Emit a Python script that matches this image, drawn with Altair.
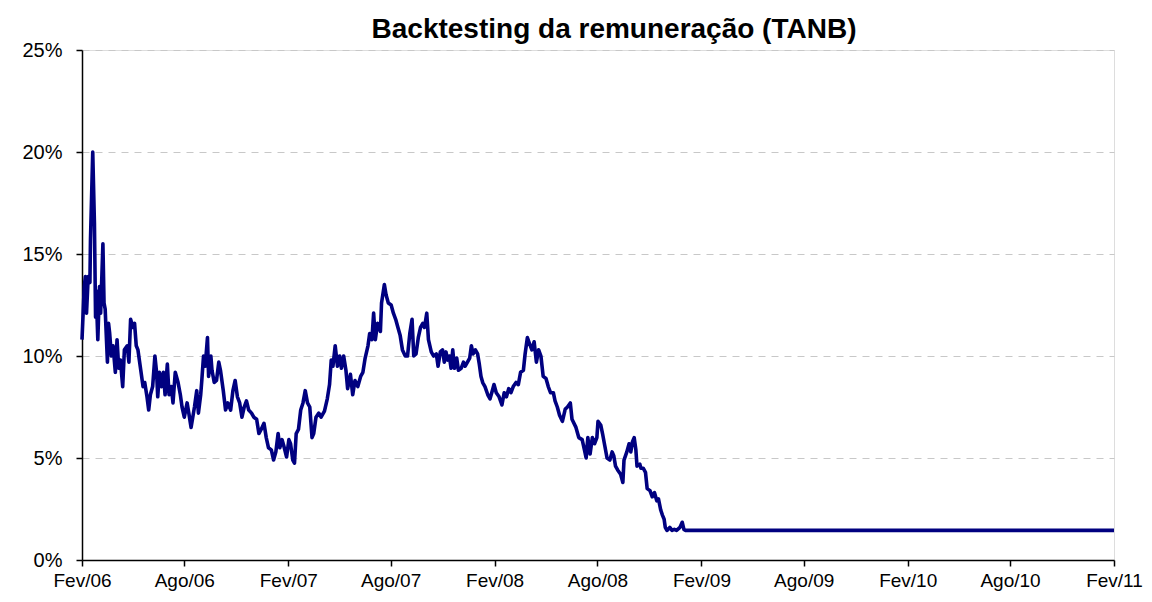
import json
import altair as alt
import pandas as pd

# ---- data ----
start_date = "2006-02-01"
day_offsets = [
    0, 4, 6, 8, 11, 14, 15, 19, 22, 24, 25, 28, 31, 33, 37, 39, 41, 45, 47, 49,
    52, 55, 59, 62, 65, 68, 72, 75, 80, 83, 86, 90, 93, 96, 99, 104, 108, 111, 115, 118,
    121, 125, 129, 132, 134, 137, 141, 144, 147, 151, 154, 158, 161, 165, 170, 174, 177, 181, 186, 189,
    193, 196, 199, 203, 206, 210, 212, 215, 218, 222, 224, 228, 230, 234, 238, 242, 245, 250, 254, 258,
    263, 267, 271, 275, 279, 283, 287, 291, 295, 300, 304, 309, 313, 317, 322, 326, 330, 335, 339, 343,
    347, 350, 354, 357, 362, 366, 369, 373, 376, 379, 383, 387, 391, 395, 399, 403, 407, 410, 414, 419,
    423, 429, 434, 438, 441, 444, 448, 452, 456, 459, 463, 467, 470, 475, 479, 483, 488, 493, 497, 501,
    506, 509, 513, 516, 519, 523, 528, 530, 535, 538, 542, 547, 551, 555, 559, 563, 567, 572, 576, 580,
    584, 587, 591, 595, 599, 603, 606, 610, 613, 618, 622, 627, 630, 634, 638, 641, 644, 647, 650, 653,
    656, 659, 663, 666, 671, 675, 678, 682, 686, 689, 692, 696, 700, 703, 706, 709, 713, 718, 722, 725,
    729, 733, 738, 743, 747, 751, 755, 759, 763, 768, 772, 776, 781, 784, 788, 792, 796, 800, 804, 808,
    812, 816, 821, 825, 829, 834, 837, 841, 845, 850, 855, 859, 864, 867, 874, 879, 885, 889, 892, 895,
    899, 903, 907, 911, 913, 918, 921, 925, 929, 934, 938, 941, 944, 948, 953, 957, 959, 964, 968, 971,
    974, 977, 980, 982, 987, 989, 993, 997, 1000, 1005, 1009, 1013, 1017, 1020, 1024, 1027, 1030, 1032, 1035, 1040,
    1044, 1048, 1052, 1058, 1062, 1065, 1068, 1826,
]
tanb_pct = [
    10.8, 13.4, 13.9, 12.1, 13.9, 13.6, 15.7, 20.0, 16.5, 11.9, 13.2, 10.8, 13.4, 12.1, 15.5, 12.6, 12.3, 9.7, 11.6, 11.1,
    10.0, 10.5, 9.2, 10.8, 9.4, 9.8, 8.5, 10.3, 10.5, 9.7, 11.8, 11.4, 11.6, 10.5, 10.3, 9.3, 8.5, 8.7, 8.0, 7.35,
    8.1, 8.5, 10.0, 9.2, 8.0, 9.2, 8.5, 9.2, 8.1, 9.6, 8.1, 8.5, 7.7, 9.2, 8.7, 8.1, 7.5, 7.0, 7.7, 7.2,
    6.5, 7.0, 7.5, 8.3, 7.2, 8.1, 8.8, 10.0, 9.5, 10.9, 9.0, 10.0, 9.3, 8.7, 8.8, 9.7, 9.3, 8.3, 7.35, 7.7,
    7.35, 8.3, 8.8, 8.0, 7.7, 7.0, 7.5, 7.8, 7.35, 7.2, 7.0, 6.9, 6.2, 6.4, 6.7, 6.0, 5.5, 5.4, 4.9, 5.3,
    6.2, 5.5, 5.9, 5.6, 5.05, 5.9, 5.7, 4.9, 4.75, 6.2, 6.4, 7.35, 7.7, 8.3, 7.7, 7.5, 6.0, 6.2, 7.0, 7.2,
    7.0, 7.3, 7.9, 8.6, 9.8, 9.5, 10.5, 9.5, 10.0, 9.4, 10.0, 9.3, 8.4, 9.1, 8.1, 8.8, 8.5, 9.0, 9.2, 9.9,
    10.5, 11.1, 10.8, 12.1, 10.8, 11.6, 11.2, 12.6, 13.5, 13.0, 12.6, 12.5, 12.1, 11.8, 11.4, 11.0, 10.3, 10.0, 10.0, 11.1,
    11.8, 10.0, 10.1, 10.9, 11.4, 11.6, 11.4, 12.1, 10.8, 10.2, 10.0, 10.1, 9.5, 10.2, 10.3, 9.7, 10.2, 9.8, 10.0, 9.4,
    10.3, 9.4, 9.9, 9.3, 9.4, 9.7, 9.5, 9.7, 9.9, 10.5, 10.1, 10.3, 10.1, 9.6, 9.0, 8.7, 8.5, 8.1, 7.9, 8.2,
    8.6, 8.2, 8.0, 7.6, 8.2, 8.0, 8.4, 8.2, 8.5, 8.7, 8.6, 9.2, 9.3, 10.1, 10.9, 10.6, 10.3, 10.7, 9.7, 10.3,
    10.0, 9.0, 8.9, 8.5, 8.2, 8.2, 7.8, 7.5, 7.1, 6.8, 7.4, 7.5, 7.7, 6.9, 6.5, 6.0, 5.9, 5.4, 5.0, 6.0,
    5.2, 6.0, 5.7, 6.0, 6.8, 6.6, 6.2, 5.6, 5.0, 4.9, 5.3, 5.1, 4.6, 4.4, 4.2, 3.8, 4.9, 5.3, 5.7, 5.3,
    5.8, 6.0, 5.4, 4.6, 4.7, 4.5, 4.5, 4.3, 3.5, 3.4, 3.1, 3.3, 2.9, 3.0, 2.45, 2.2, 2.0, 1.6, 1.45, 1.6,
    1.45, 1.5, 1.45, 1.6, 1.85, 1.5, 1.45, 1.45,
]
tick_dates = [
    "2006-02-01", "2006-08-01", "2007-02-01", "2007-08-01", "2008-02-01", "2008-08-01",
    "2009-02-01", "2009-08-01", "2010-02-01", "2010-08-01", "2011-02-01",
]
tick_labels = [
    "Fev/06", "Ago/06", "Fev/07", "Ago/07", "Fev/08", "Ago/08",
    "Fev/09", "Ago/09", "Fev/10", "Ago/10", "Fev/11",
]
y_ticks = [0, 0.05, 0.10, 0.15, 0.20, 0.25]
title_text = "Backtesting da remuneração (TANB)"

# ---- table ----
dates = (pd.Timestamp(start_date) + pd.to_timedelta(day_offsets, unit="D")).strftime("%Y-%m-%d")
df = pd.DataFrame({"date": dates, "tanb": [v / 100 for v in tanb_pct]})

tick_ms = [int(pd.Timestamp(d, tz="UTC").timestamp() * 1000) for d in tick_dates]
label_expr = (
    f"{json.dumps(tick_labels)}[indexof({json.dumps(tick_dates)}, "
    f"utcFormat(datum.value, '%Y-%m-%d'))]"
)

FONT = "Liberation Sans"

chart = (
    alt.Chart(df)
    .mark_line(color="#000080", strokeWidth=3.6, strokeJoin="round")
    .encode(
        x=alt.X(
            "date:T",
            scale=alt.Scale(type="utc", domain=[tick_ms[0], tick_ms[-1]]),
            axis=alt.Axis(
                title=None,
                values=tick_ms,
                labelExpr=label_expr,
                grid=False,
                domainColor="black",
                domainWidth=1.5,
                tickColor="black",
                tickWidth=1.5,
                tickSize=6,
                labelPadding=5,
                labelFont=FONT,
                labelFontSize=19,
                labelColor="black",
                labelFlush=False,
                labelOverlap=False,
            ),
        ),
        y=alt.Y(
            "tanb:Q",
            scale=alt.Scale(domain=[0, 0.25], nice=False),
            axis=alt.Axis(
                title=None,
                values=y_ticks,
                format=".0%",
                grid=True,
                gridColor="#c8c8c8",
                gridDash=[7, 6],
                gridWidth=1,
                domainColor="black",
                domainWidth=1.5,
                tickColor="black",
                tickWidth=1.5,
                tickSize=6,
                labelPadding=14,
                labelFont=FONT,
                labelFontSize=20,
                labelColor="black",
            ),
        ),
    )
    .properties(
        width=1032,
        height=510,
        title=alt.TitleParams(
            text=title_text,
            font=FONT,
            fontSize=28,
            fontWeight="bold",
            color="black",
            anchor="middle",
            offset=-4,
            dx=16,
        ),
        padding={"left": 74, "top": 42, "right": 30, "bottom": 34},
        autosize=alt.AutoSizeParams(type="none"),
    )
    .configure_view(stroke="#868686", strokeWidth=2)
    .configure(background="white")
)

chart.save("out.html", embed_options={"renderer": "svg", "actions": False})
